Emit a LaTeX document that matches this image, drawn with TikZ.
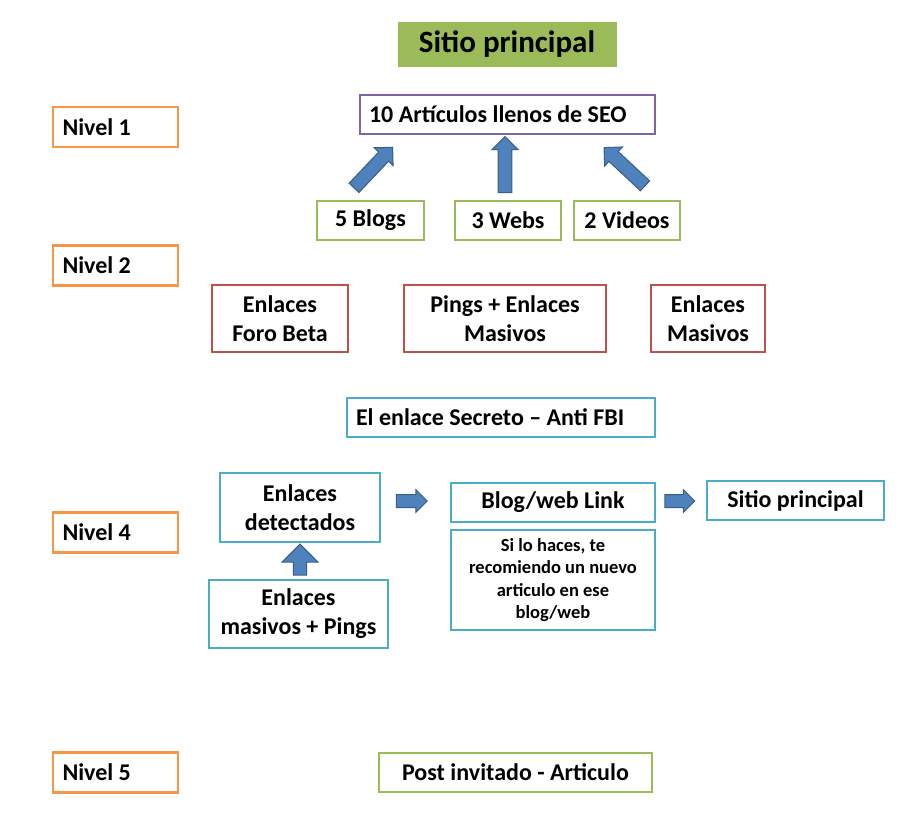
\documentclass[tikz,border=0pt]{standalone}
\usepackage{fontspec}
\setmainfont{Carlito}
\usetikzlibrary{shapes.arrows,shadows}
\definecolor{cgreen}{HTML}{9BBB59}
\definecolor{corange}{HTML}{F79646}
\definecolor{cpurple}{HTML}{8064A2}
\definecolor{cred}{HTML}{C0504D}
\definecolor{ccyan}{HTML}{4BACC6}
\definecolor{cblue}{HTML}{4F81BD}
\definecolor{cblueline}{HTML}{385D8A}
\tikzset{
  box/.style={draw=#1, line width=2.5pt, fill=white, inner sep=1pt, align=center,
    font=\fontsize{24}{29}\selectfont\bfseries},
  lvl/.style={box=corange, minimum width=125pt, minimum height=40pt, text width=106pt, align=flush left},
  barrow/.style={single arrow, draw=cblueline, fill=cblue, line width=1pt, inner sep=0pt,
    minimum width=#1, single arrow head extend=6pt, text height=12pt, text depth=0pt, text width=0pt},
}
\begin{document}
\begin{tikzpicture}[x=1pt,y=-1pt]
\useasboundingbox (0,0) rectangle (922,831);
% title
\node[fill=cgreen, draw=white, line width=3pt, drop shadow={opacity=0.35,shadow xshift=2pt,shadow yshift=-2pt},
  minimum width=222pt, minimum height=48pt, font=\fontsize{31}{36}\selectfont\bfseries] (title) at (507,44) {Sitio principal};
% levels
\node[lvl] (n1) at (115.5,127) {Nivel 1};
\node[lvl] (n2) at (115.5,265.5) {Nivel 2};
\node[lvl] (n4) at (115.5,532.5) {Nivel 4};
\node[lvl] (n5) at (115.5,772.5) {Nivel 5};
% level 1
\node[box=cpurple, minimum width=295pt, minimum height=39pt, text width=277pt, align=flush left] (art) at (507.5,114.5) {10 Artículos llenos de SEO};
\node[box=cgreen, minimum width=107pt, minimum height=39pt] (blogs) at (370.5,220.5) {5 Blogs};
\node[box=cgreen, minimum width=106pt, minimum height=39pt] (webs) at (508,220.5) {3 Webs};
\node[box=cgreen, minimum width=106pt, minimum height=39pt] (videos) at (627,220.5) {2 Videos};
\node[barrow=26pt, minimum height=56pt, rotate=46.5] (a1) at (371,170) {};
\node[barrow=26pt, minimum height=56pt, rotate=90] (a2) at (505,168) {};
\node[barrow=26pt, minimum height=56pt, rotate=137] (a3) at (627,169) {};
% level 2
\node[box=cred, minimum width=136pt, minimum height=67pt] (foro) at (280,318.5) {Enlaces\\Foro Beta};
\node[box=cred, minimum width=202pt, minimum height=67pt] (pings) at (505,318.5) {Pings + Enlaces\\Masivos};
\node[box=cred, minimum width=114pt, minimum height=67pt] (masivos) at (708,318.5) {Enlaces\\Masivos};
% level 3
\node[box=ccyan, minimum width=308pt, minimum height=39pt, text width=290pt, align=flush left] (secreto) at (501,417.5) {El enlace Secreto -- Anti FBI};
% level 4
\node[box=ccyan, minimum width=160pt, minimum height=69pt] (det) at (300,507.5) {Enlaces\\detectados};
\node[box=ccyan, minimum width=204pt, minimum height=39pt] (link) at (553,502.5) {Blog/web Link};
\node[box=ccyan, minimum width=177pt, minimum height=39pt] (sitio) at (795.5,500.5) {Sitio principal};
\node[box=ccyan, minimum width=204pt, minimum height=100pt, font=\fontsize{18.5}{22.5}\selectfont\bfseries] (si) at (553,580)
  {Si lo haces, te\\recomiendo un nuevo\\articulo en ese\\blog/web};
\node[box=ccyan, minimum width=179pt, minimum height=68pt] (mas) at (298.5,614) {Enlaces\\masivos + Pings};
\node[barrow=22pt, minimum height=31pt, single arrow head extend=5pt] (r1) at (408.5,501) {};
\node[barrow=22pt, minimum height=30pt, single arrow head extend=5pt] (r2) at (676.5,501) {};
\node[barrow=36pt, minimum height=31pt, rotate=90, single arrow head extend=11pt] (u1) at (300,563) {};
% level 5
\node[box=cgreen, minimum width=273pt, minimum height=39pt] (post) at (515.5,772.5) {Post invitado - Articulo};
\end{tikzpicture}
\end{document}
